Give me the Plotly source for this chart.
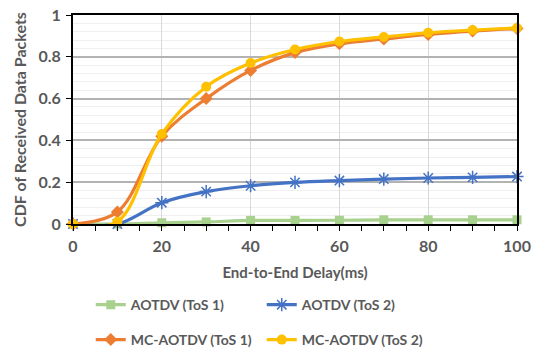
import plotly.graph_objects as go

delay = [0, 10, 20, 30, 40, 50, 60, 70, 80, 90, 100]
aotdv_tos1 = [0, 0, 0.006, 0.01, 0.017, 0.017, 0.018, 0.02, 0.02, 0.02, 0.02]
aotdv_tos2 = [0, 0, 0.102, 0.155, 0.183, 0.199, 0.208, 0.215, 0.22, 0.223, 0.227]
mc_tos1 = [0, 0.058, 0.42, 0.6, 0.735, 0.82, 0.862, 0.885, 0.907, 0.923, 0.935]
mc_tos2 = [0, 0.011, 0.431, 0.657, 0.77, 0.835, 0.873, 0.895, 0.915, 0.928, 0.938]

names = ["AOTDV (ToS 1)", "AOTDV (ToS 2)", "MC-AOTDV (ToS 1)", "MC-AOTDV (ToS 2)"]
FONT = "Lato"
GREY = "#595959"

fig = go.Figure()
series = [
    (aotdv_tos1, "#a9d18e", dict(symbol="square", size=9), "legend"),
    (aotdv_tos2, "#4472c4", dict(symbol="asterisk-open", size=11, line=dict(width=1.5, color="#4472c4")), "legend"),
    (mc_tos1, "#ed7d31", dict(symbol="diamond", size=10), "legend2"),
    (mc_tos2, "#ffc000", dict(symbol="circle", size=10), "legend2"),
]
for (vals, color, mk, lg), name in zip(series, names):
    fig.add_trace(go.Scatter(
        x=delay, y=vals, name=name, mode="lines+markers",
        line=dict(color=color, width=3.2, shape="spline"),
        marker=dict(color=color, **mk),
        cliponaxis=False, legend=lg,
    ))

legend_common = dict(
    orientation="h", xref="paper", yref="paper", xanchor="left", yanchor="middle",
    font=dict(family=FONT, size=14, color=GREY, weight="bold"),
    entrywidth=126, entrywidthmode="pixels", bgcolor="rgba(0,0,0,0)",
    itemwidth=30,
)

fig.update_layout(
    width=539, height=359,
    margin=dict(l=73, r=22, t=15, b=135, autoexpand=False),
    paper_bgcolor="white", plot_bgcolor="white",
    font=dict(family=FONT, size=14, color=GREY),
    showlegend=True,
    legend=dict(x=0.04, y=-0.388, **legend_common),
    legend2=dict(x=0.04, y=-0.555, **legend_common),
    xaxis=dict(
        range=[0, 100], dtick=20, tick0=0, automargin=False,
        showgrid=True, gridcolor="#d9d9d9", gridwidth=1,
        showline=True, linecolor="black", linewidth=2, mirror=True,
        ticks="outside", ticklen=5, tickcolor="black",
        ticklabelstandoff=2,
        minor=dict(dtick=5, ticks="outside", ticklen=5, tickcolor="black", showgrid=False),
        tickfont=dict(family=FONT, size=16, color=GREY, weight="bold"),
        title=dict(text="End-to-End Delay(ms)", standoff=13,
                   font=dict(family=FONT, size=15, color=GREY, weight="bold")),
        zeroline=False,
    ),
    yaxis=dict(
        range=[0, 1], dtick=0.2, tick0=0, automargin=False,
        showgrid=True, gridcolor="#b3b3b3", gridwidth=1.5,
        showline=True, linecolor="black", linewidth=2, mirror=True,
        ticks="outside", ticklen=5, tickcolor="black",
        ticklabelstandoff=2,
        minor=dict(dtick=0.04, showgrid=True, gridcolor="#efefef", gridwidth=1, ticks=""),
        tickfont=dict(family=FONT, size=16, color=GREY, weight="bold"),
        title=dict(text="CDF of Received Data Packets", standoff=8,
                   font=dict(family=FONT, size=16, color=GREY, weight="bold")),
        zeroline=False,
    ),
)

fig.write_html("out.html")
